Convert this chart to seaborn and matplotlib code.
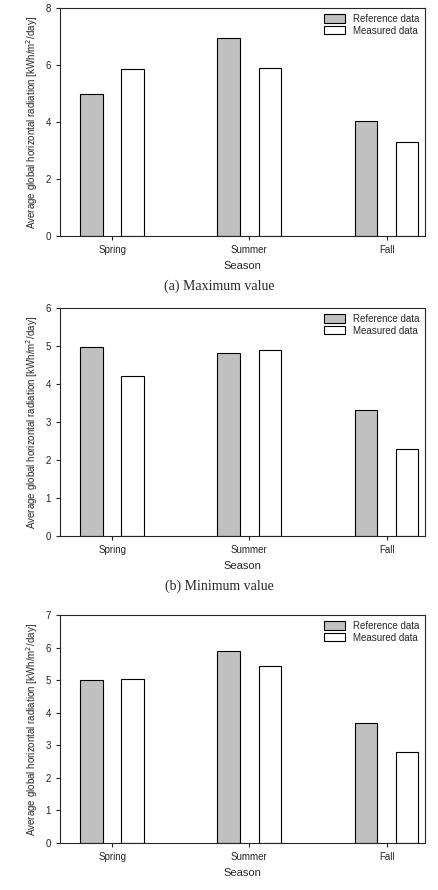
import pandas as pd
import matplotlib.pyplot as plt
import seaborn as sns

seasons = ['Spring', 'Summer', 'Fall']
series = ['Reference data', 'Measured data']
max_ref = [5.0, 6.95, 4.05]
max_meas = [5.85, 5.9, 3.3]
min_ref = [4.98, 4.82, 3.32]
min_meas = [4.2, 4.9, 2.28]
avg_ref = [5.0, 5.9, 3.68]
avg_meas = [5.02, 5.42, 2.78]
captions = ['(a) Maximum value', '(b) Minimum value', None]
ymaxes = [8, 6, 7]
ysteps = [2, 1, 1]

sns.set_style('ticks')
plt.rcParams['font.family'] = ['Liberation Sans', 'DejaVu Sans']

fig = plt.figure(figsize=(4.38, 8.9), dpi=100)
panels = [(max_ref, max_meas), (min_ref, min_meas), (avg_ref, avg_meas)]
tops = [8, 308, 615]
for (ref, meas), cap, ymax, step, top in zip(panels, captions, ymaxes, ysteps, tops):
    ax = fig.add_axes([60 / 438, 1 - (top + 228) / 890, 365 / 438, 228 / 890])
    df = pd.DataFrame({
        'Season': seasons * 2,
        'value': ref + meas,
        'series': [series[0]] * 3 + [series[1]] * 3,
    })
    sns.barplot(data=df, x='Season', y='value', hue='series', ax=ax,
                palette=['#c0c0c0', 'white'], width=0.6, gap=0.45,
                edgecolor='black', linewidth=0.8, saturation=1)
    ax.set_xlim(-0.38, 2.28)
    ax.set_ylim(0, ymax)
    ax.set_yticks(range(0, ymax + 1, step))
    ax.tick_params(labelsize=7, length=3)
    ax.set_xlabel('Season', fontsize=8)
    ax.set_ylabel('Average global horizontal radiation [kWh/m$^2$/day]', fontsize=7)
    for s in ax.spines.values():
        s.set_visible(True)
        s.set_linewidth(0.8)
    ax.legend(loc='upper right', fontsize=7, frameon=False, handlelength=2.2,
              handleheight=0.9, borderaxespad=0.2, labelspacing=0.2)
    if cap:
        fig.text(0.5, 1 - (top + 278) / 890, cap, ha='center', va='center',
                 fontsize=10, family=['Liberation Serif', 'DejaVu Serif'])

fig.savefig('out.png', dpi=100)
